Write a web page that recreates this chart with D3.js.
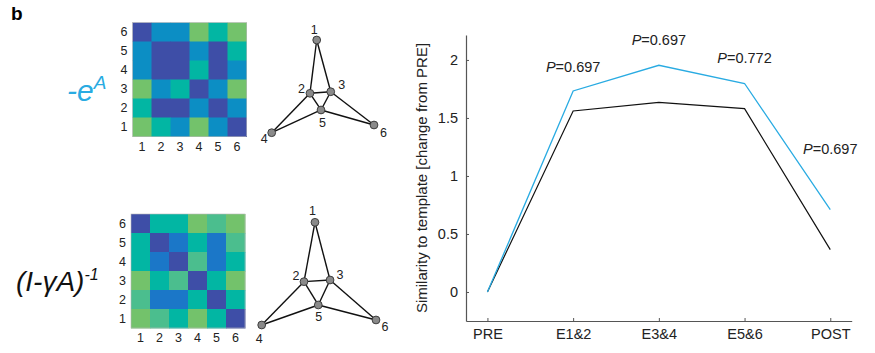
<!DOCTYPE html>
<html>
<head>
<meta charset="utf-8">
<script src="https://cdn.jsdelivr.net/npm/d3@7"></script>
<style>
  body { margin: 0; background: #fff; }
  text { font-family: "Liberation Sans", Arial, sans-serif; }
</style>
</head>
<body>
<svg id="fig" width="875" height="353"></svg>
<script>
// ---- data ----
var stages = ["PRE", "E1&2", "E3&4", "E5&6", "POST"];
var expSeries = [0, 1.733, 1.954, 1.797, 0.71];      // -e^A (blue)
var resSeries = [0, 1.56, 1.635, 1.58, 0.365];       // (I-gA)^-1 (black)
var pValues = ["", "0.697", "0.697", "0.772", "0.697"];
var yTicks = [0, 0.5, 1, 1.5, 2];

var nodeIds = [1, 2, 3, 4, 5, 6];
var edges = [[1, 2], [1, 3], [2, 3], [2, 5], [3, 5], [2, 4], [4, 5], [3, 6], [5, 6]];
// graph layouts, unit coordinates (node order 1..6)
var expLayoutX = [0.44, 0.374, 0.577, 0, 0.482, 1];
var expLayoutY = [0, 0.575, 0.558, 1, 0.755, 0.917];
var resLayoutX = [0.466, 0.37, 0.598, 0, 0.495, 1];
var resLayoutY = [0, 0.578, 0.562, 1, 0.805, 0.951];

// matrix colour levels, rows listed top (6) to bottom (1), columns 1..6
var rowLabels = [6, 5, 4, 3, 2, 1];
var colLabels = [1, 2, 3, 4, 5, 6];
var expMatrix = [
  [0, 2, 2, 5, 3, 5],
  [2, 0, 0, 2, 0, 3],
  [2, 0, 0, 3, 0, 2],
  [5, 2, 3, 0, 2, 5],
  [3, 0, 0, 2, 0, 2],
  [5, 3, 2, 5, 2, 0]
];
var resMatrix = [
  [0, 3, 3, 5, 4, 5],
  [3, 0, 1, 3, 1, 4],
  [3, 1, 0, 4, 1, 3],
  [5, 3, 4, 0, 3, 5],
  [4, 1, 1, 3, 0, 3],
  [5, 4, 3, 5, 3, 0]
];

var svg = d3.select("#fig");
var blue = "#29abe2";

var levelColor = d3.scaleOrdinal()
  .domain([0, 1, 2, 3, 4, 5])
  .range(["#3e4ea7", "#1b77c8", "#0c8ec4", "#02b6a3", "#4bbe8e", "#73c26b"]);

svg.append("text").attr("x", 11).attr("y", 20)
  .attr("font-size", 19).attr("font-weight", "bold").text("b");

// ---- heatmaps ----
function heatmap(matrix, left, top) {
  var size = 114;
  var x = d3.scaleBand().domain(colLabels).range([left, left + size]);
  var y = d3.scaleBand().domain(rowLabels).range([top, top + size]);
  var g = svg.append("g");
  matrix.forEach(function(row, i) {
    g.selectAll(null).data(row).enter().append("rect")
      .attr("x", function(d, j) { return x(colLabels[j]); })
      .attr("y", y(rowLabels[i]))
      .attr("width", x.bandwidth() + 0.5)
      .attr("height", y.bandwidth() + 0.5)
      .attr("fill", function(d) { return levelColor(d); });
  });
  g.append("rect").attr("x", left).attr("y", top).attr("width", size).attr("height", size)
    .attr("fill", "none").attr("stroke", "#b9b9b9").attr("stroke-width", 0.6);
  g.selectAll(".rl").data(rowLabels).enter().append("text")
    .attr("x", left - 5)
    .attr("y", function(d) { return y(d) + y.bandwidth() / 2; })
    .attr("dy", "0.35em").attr("text-anchor", "end").attr("font-size", 12.5)
    .attr("fill", "#222").text(function(d) { return d; });
  g.selectAll(".cl").data(colLabels).enter().append("text")
    .attr("x", function(d) { return x(d) + x.bandwidth() / 2; })
    .attr("y", top + size + 10)
    .attr("dy", "0.35em").attr("text-anchor", "middle").attr("font-size", 12.5)
    .attr("fill", "#222").text(function(d) { return d; });
}
heatmap(expMatrix, 132.5, 22.5);
heatmap(resMatrix, 131, 214);

// ---- graphs ----
function graph(lx, ly, x0, x1, y0, y1, labelOffsets) {
  var x = d3.scaleLinear().domain([0, 1]).range([x0, x1]);
  var y = d3.scaleLinear().domain([0, 1]).range([y0, y1]);
  var px = function(id) { return x(lx[id - 1]); };
  var py = function(id) { return y(ly[id - 1]); };
  var g = svg.append("g");
  g.selectAll("line").data(edges).enter().append("line")
    .attr("x1", function(d) { return px(d[0]); })
    .attr("y1", function(d) { return py(d[0]); })
    .attr("x2", function(d) { return px(d[1]); })
    .attr("y2", function(d) { return py(d[1]); })
    .attr("stroke", "#111").attr("stroke-width", 1.4);
  g.selectAll("circle").data(nodeIds).enter().append("circle")
    .attr("cx", px).attr("cy", py).attr("r", 3.9)
    .attr("fill", "#8a8a8a").attr("stroke", "#333").attr("stroke-width", 0.9);
  g.selectAll("text").data(nodeIds).enter().append("text")
    .attr("x", function(d) { return px(d) + labelOffsets[d - 1][0]; })
    .attr("y", function(d) { return py(d) + labelOffsets[d - 1][1]; })
    .attr("dy", "0.35em").attr("text-anchor", "middle").attr("font-size", 12.5)
    .attr("fill", "#222").text(function(d) { return d; });
}
graph(expLayoutX, expLayoutY, 271.7, 374, 40, 132.7,
  [[-2.5, -10], [-8.5, -5], [11, -7.5], [-7.5, 5.5], [1.5, 13], [9.5, 7.5]]);
graph(resLayoutX, resLayoutY, 261.7, 376, 222.3, 325,
  [[-2.5, -12], [-8, -6.5], [10, -5], [-2.5, 13.5], [0.5, 11.5], [9, 6.5]]);

// ---- formula labels ----
var t1 = svg.append("text").attr("x", 67).attr("y", 101)
  .attr("fill", blue).attr("font-style", "italic").attr("font-size", 30);
t1.append("tspan").text("-e");
t1.append("tspan").attr("font-size", 19).attr("dy", -12).text("A");

var t2 = svg.append("text").attr("x", 16).attr("y", 291)
  .attr("fill", "#111").attr("font-style", "italic").attr("font-size", 28);
t2.append("tspan").text("(I-\u03b3A)");
t2.append("tspan").attr("font-size", 16).attr("dy", -11).text("-1");

// ---- line chart ----
var x = d3.scalePoint().domain(stages).range([466, 851.7]).padding(0.25);
var y = d3.scaleLinear().domain([-0.25, 2.215]).range([321, 35]);

var yAxis = svg.append("g").attr("transform", "translate(466,0)")
  .call(d3.axisLeft(y).tickValues(yTicks).tickSize(-3).tickSizeOuter(0).tickPadding(8)
    .tickFormat(d3.format("~g")));
var xAxis = svg.append("g").attr("transform", "translate(0,321)")
  .call(d3.axisBottom(x).tickSize(-3).tickSizeOuter(0).tickPadding(8));
[yAxis, xAxis].forEach(function(a) {
  a.select(".domain").attr("stroke", "#555").attr("stroke-width", 1.2);
  a.selectAll(".tick line").attr("stroke", "#555");
  a.selectAll(".tick text").attr("font-size", 14.5).attr("fill", "#222")
    .attr("font-family", "'Liberation Sans', Arial, sans-serif");
});

svg.append("text")
  .attr("transform", "translate(427,178) rotate(-90)")
  .attr("text-anchor", "middle").attr("font-size", 15).attr("fill", "#222")
  .text("Similarity to template [change from PRE]");

var line = d3.line()
  .x(function(d, i) { return x(stages[i]); })
  .y(function(d) { return y(d); });
svg.append("path").datum(resSeries).attr("d", line)
  .attr("fill", "none").attr("stroke", "#111").attr("stroke-width", 1.2);
svg.append("path").datum(expSeries).attr("d", line)
  .attr("fill", "none").attr("stroke", blue).attr("stroke-width", 1.3);

// P labels sit above the blue line; the last one is lifted higher
var labelLift = [0, 19, 20, 20, 56];
stages.forEach(function(s, i) {
  if (!pValues[i]) return;
  var t = svg.append("text")
    .attr("x", x(s)).attr("y", y(expSeries[i]) - labelLift[i])
    .attr("text-anchor", "middle").attr("font-size", 14.5).attr("fill", "#222");
  t.append("tspan").attr("font-style", "italic").text("P");
  t.append("tspan").text("=" + pValues[i]);
});
</script>
</body>
</html>
